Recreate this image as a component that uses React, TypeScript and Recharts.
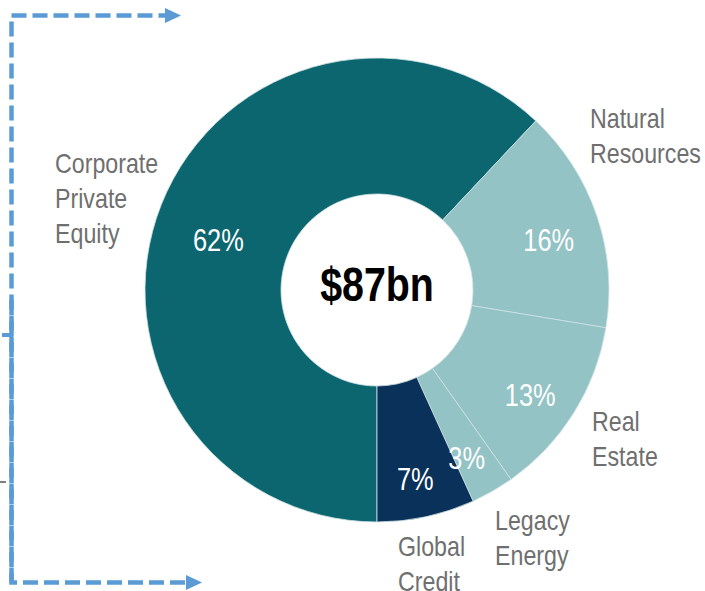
import React from "react";
import { PieChart, Pie, Cell } from "recharts";

const categories = ["Corporate Private Equity", "Natural Resources", "Real Estate", "Legacy Energy", "Global Credit"];
const shares = [62.0, 15.6, 12.6, 3.0, 6.8];
const pctLabels = ["62%", "16%", "13%", "3%", "7%"];
const nameLines = [["Corporate", "Private", "Equity"], ["Natural", "Resources"], ["Real", "Estate"], ["Legacy", "Energy"], ["Global", "Credit"]];
const centerLabel = "$87bn";

const colors = ["#0b6670", "#93c3c5", "#93c3c5", "#93c3c5", "#0a3159"];

// label layout (styling, not data)
const pctNudge = [
  { dx: 5, dy: 15 },
  { dx: 5, dy: 7 },
  { dx: 4, dy: 12 },
  { dx: 2, dy: 15 },
  { dx: 1, dy: 17 },
];
const nameOffset = [
  { dx: -322, dy: -127 },
  { dx: 213, dy: -172 },
  { dx: 215, dy: 131 },
  { dx: 118, dy: 230 },
  { dx: 21, dy: 256 },
];

const data = categories.map((name, i) => ({ name, value: shares[i], pct: pctLabels[i], lines: nameLines[i] }));

const FONT = '"Liberation Sans", Arial, sans-serif';
const RAD = Math.PI / 180;
const CX = 377;
const CY = 290;

const NarrowText = ({ x, y, sx, anchor, size, fill, bold, children }: any) => (
  <g transform={`translate(${x},${y}) scale(${sx},1)`}>
    <text x={0} y={0} textAnchor={anchor} dominantBaseline="central" fontFamily={FONT} fontSize={size} fontWeight={bold ? "bold" : "normal"} fill={fill}>
      {children}
    </text>
  </g>
);

const renderLabel = (props: any) => {
  const { cx, cy, midAngle, index } = props;
  const r = 176;
  const x = cx + r * Math.cos(-midAngle * RAD) + pctNudge[index].dx;
  const y = cy + r * Math.sin(-midAngle * RAD) + pctNudge[index].dy;
  const nx = cx + nameOffset[index].dx;
  const ny = cy + nameOffset[index].dy;
  return (
    <g key={`lbl-${index}`}>
      <NarrowText x={x} y={y} sx={0.82} anchor="middle" size={31} fill="#ffffff">
        {data[index].pct}
      </NarrowText>
      {data[index].lines.map((ln: string, j: number) => (
        <NarrowText key={j} x={nx} y={ny + j * 35} sx={0.86} anchor="start" size={27} fill="#6f6f6f">
          {ln}
        </NarrowText>
      ))}
    </g>
  );
};

const ARROW = "#5b9bd5";

export default function App() {
  return (
    <div style={{ position: "absolute", left: 0, top: 0, width: 705, height: 591, background: "#ffffff" }}>
      <PieChart width={705} height={591} margin={{ top: 0, right: 0, bottom: 0, left: 0 }}>
        <Pie
          data={data}
          dataKey="value"
          nameKey="name"
          cx={CX}
          cy={CY}
          innerRadius={96}
          outerRadius={232}
          startAngle={-90}
          endAngle={-450}
          stroke="#cfe2e3"
          strokeWidth={0.8}
          label={renderLabel}
          labelLine={false}
          isAnimationActive={false}
        >
          {data.map((d, i) => (
            <Cell key={d.name} fill={colors[i]} />
          ))}
        </Pie>
        <NarrowText x={CX} y={CY - 6} sx={0.82} anchor="middle" size={48} fill="#000000" bold>
          {centerLabel}
        </NarrowText>
      </PieChart>
      <svg width={705} height={591} style={{ position: "absolute", left: 0, top: 0, pointerEvents: "none" }}>
        <path d="M11.5 582.5 L11.5 15.5 L166 15.5" fill="none" stroke={ARROW} strokeWidth={4.5} strokeDasharray="15 6" />
        <polygon points="165,8 181,15.5 165,23" fill={ARROW} />
        <path d="M11.5 300 L11.5 582.5 L186 582.5" fill="none" stroke={ARROW} strokeWidth={4.5} strokeDasharray="15 6" />
        <polygon points="186,575 202,582.5 186,590" fill={ARROW} />
        <line x1={2} y1={335} x2={13} y2={335} stroke={ARROW} strokeWidth={4} />
        <line x1={0} y1={482} x2={6} y2={482} stroke="#808080" strokeWidth={2} />
      </svg>
    </div>
  );
}
